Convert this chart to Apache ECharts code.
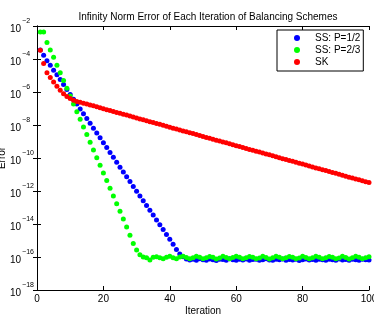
<!DOCTYPE html>
<html>
<head>
<meta charset="utf-8">
<script src="https://cdn.jsdelivr.net/npm/echarts@6/dist/echarts.min.js"></script>
<style>
  html, body { margin: 0; padding: 0; background: #fff; }
  #chart { width: 374px; height: 320px; }
</style>
</head>
<body>
<div id="chart"></div>
<script>
// iterations 1..100, values stored as log10(error)
var iterations = [];
for (var i = 1; i <= 100; i++) iterations.push(i);

var ssHalf = [
  -3.45, -3.78, -4.10, -4.38, -4.68, -4.96, -5.24, -5.55, -5.85, -6.15,
  -6.44, -6.73, -7.03, -7.32, -7.61, -7.90, -8.20, -8.49, -8.78, -9.07,
  -9.37, -9.66, -9.95, -10.25, -10.56, -10.85, -11.14, -11.43, -11.72, -12.01,
  -12.30, -12.59, -12.88, -13.17, -13.46, -13.76, -14.05, -14.34, -14.63, -14.93,
  -15.22, -15.55, -15.82, -15.98, -16.12, -16.18, -16.14, -16.20, -16.10, -16.16,
  -16.19, -16.12, -16.17, -16.21, -16.13, -16.15, -16.20, -16.11, -16.17, -16.19,
  -16.14, -16.18, -16.12, -16.20, -16.15, -16.13, -16.19, -16.16, -16.11, -16.18,
  -16.20, -16.14, -16.17, -16.12, -16.19, -16.15, -16.18, -16.13, -16.21, -16.16,
  -16.12, -16.18, -16.15, -16.20, -16.13, -16.17, -16.19, -16.14, -16.16, -16.20,
  -16.12, -16.18, -16.15, -16.19, -16.13, -16.17, -16.20, -16.14, -16.16, -16.18
];

var ssTwoThirds = [
  -2.36, -2.36, -3.00, -3.45, -3.90, -4.38, -4.84, -5.30, -5.77, -6.24,
  -6.72, -7.19, -7.65, -8.12, -8.58, -9.05, -9.51, -9.98, -10.44, -10.91,
  -11.37, -11.84, -12.30, -12.77, -13.23, -13.70, -14.18, -14.68, -15.18, -15.58,
  -15.86, -16.00, -16.05, -16.18, -16.02, -15.98, -16.05, -16.10, -16.02, -15.96,
  -16.04, -16.10, -16.00, -15.95, -16.03, -16.11, -16.04, -15.96, -16.02, -16.10,
  -16.05, -15.97, -16.01, -16.12, -16.06, -15.96, -16.03, -16.10, -16.03, -15.95,
  -16.02, -16.11, -16.05, -15.97, -16.01, -16.10, -16.06, -15.96, -16.03, -16.12,
  -16.04, -15.95, -16.02, -16.10, -16.05, -15.97, -16.01, -16.11, -16.06, -15.96,
  -16.03, -16.10, -16.04, -15.95, -16.02, -16.11, -16.05, -15.97, -16.01, -16.10,
  -16.06, -15.96, -16.03, -16.12, -16.04, -15.96, -16.02, -16.10, -16.05, -15.98
];

var sk = [
  -3.47, -4.28, -4.83, -5.12, -5.40, -5.65, -5.90, -6.10, -6.27, -6.40,
  -6.50, -6.57, -6.62, -6.68, -6.73, -6.79, -6.84, -6.90, -6.96, -7.01,
  -7.07, -7.12, -7.18, -7.24, -7.29, -7.35, -7.40, -7.46, -7.52, -7.57,
  -7.63, -7.68, -7.74, -7.80, -7.85, -7.91, -7.96, -8.02, -8.08, -8.13,
  -8.19, -8.24, -8.30, -8.36, -8.41, -8.47, -8.52, -8.58, -8.64, -8.69,
  -8.75, -8.80, -8.86, -8.92, -8.97, -9.03, -9.08, -9.14, -9.20, -9.25,
  -9.31, -9.36, -9.42, -9.48, -9.53, -9.59, -9.64, -9.70, -9.76, -9.81,
  -9.87, -9.92, -9.98, -10.04, -10.09, -10.15, -10.20, -10.26, -10.32, -10.37,
  -10.43, -10.48, -10.54, -10.60, -10.65, -10.71, -10.76, -10.82, -10.88, -10.93,
  -10.99, -11.04, -11.10, -11.16, -11.21, -11.27, -11.32, -11.38, -11.44, -11.49
];

var yTickExponents = [-18, -16, -14, -12, -10, -8, -6, -4, -2];
var xTicks = [0, 20, 40, 60, 80, 100];

function toPoints(logs) {
  return logs.map(function (v, idx) {
    return [iterations[idx], Math.pow(10, v)];
  });
}

var fontFamily = "'Liberation Sans', Arial, sans-serif";

var myChart = echarts.init(document.getElementById("chart"));

var option = {
  animation: false,
  backgroundColor: "#fff",
  title: {
    text: "Infinity Norm Error of Each Iteration of Balancing Schemes",
    left: 203,
    top: 7,
    textAlign: "center",
    textStyle: { fontFamily: fontFamily, fontSize: 10, fontWeight: "normal", color: "#000" }
  },
  legend: {
    orient: "vertical",
    left: 277,
    top: 30,
    padding: [2, 3, 3, 17],
    itemGap: 0,
    itemWidth: 6,
    itemHeight: 6,
    icon: "circle",
    backgroundColor: "#fff",
    borderColor: "#000",
    borderWidth: 1,
    textStyle: {
      fontFamily: fontFamily,
      fontSize: 10,
      color: "#000",
      lineHeight: 12,
      padding: [0, 0, 0, 10]
    },
    data: ["SS: P=1/2", "SS: P=2/3", "SK"]
  },
  grid: { left: 37, right: 5, top: 26, bottom: 30, containLabel: false, outerBoundsMode: "none" },
  xAxis: [
    {
      type: "value",
      min: 0,
      max: 100,
      interval: 20,
      name: "Iteration",
      nameLocation: "middle",
      nameGap: 16,
      nameMoveOverlap: false,
      nameTextStyle: { fontFamily: fontFamily, fontSize: 10, color: "#000" },
      axisLine: { show: true, lineStyle: { color: "#000", width: 1 } },
      axisTick: { show: true, inside: true, length: 4, lineStyle: { color: "#000" } },
      axisLabel: {
        fontFamily: fontFamily, fontSize: 10, color: "#000", margin: 4,
        formatter: function (v) { return xTicks.indexOf(v) >= 0 ? String(v) : ""; }
      },
      splitLine: { show: false }
    },
    {
      type: "value",
      position: "top",
      min: 0,
      max: 100,
      interval: 20,
      axisLine: { show: true, lineStyle: { color: "#000", width: 1 } },
      axisTick: { show: true, inside: true, length: 4, lineStyle: { color: "#000" } },
      axisLabel: { show: false },
      splitLine: { show: false }
    }
  ],
  yAxis: [
    {
      type: "log",
      logBase: 100,
      min: 1e-18,
      max: 1e-2,
      name: "Error",
      nameLocation: "middle",
      nameGap: 30,
      nameRotate: 90,
      nameMoveOverlap: false,
      nameTextStyle: { fontFamily: fontFamily, fontSize: 10, color: "#000" },
      axisLine: { show: true, lineStyle: { color: "#000", width: 1 } },
      axisTick: { show: true, inside: true, length: 4, lineStyle: { color: "#000" } },
      axisLabel: {
        align: "left",
        margin: 27,
        formatter: function (v) {
          var e = Math.round(Math.log(v) / Math.LN10);
          if (yTickExponents.indexOf(e) < 0) return "";
          return "{b|10}{s|\u2212" + (-e) + "}";
        },
        rich: {
          b: { fontFamily: fontFamily, fontSize: 10, color: "#000", lineHeight: 16, verticalAlign: "bottom" },
          s: { fontFamily: fontFamily, fontSize: 7, color: "#000", lineHeight: 16, verticalAlign: "top", padding: [0, 0, 0, 1] }
        }
      },
      splitLine: { show: false }
    },
    {
      type: "log",
      logBase: 100,
      min: 1e-18,
      max: 1e-2,
      position: "right",
      axisLine: { show: true, lineStyle: { color: "#000", width: 1 } },
      axisTick: { show: true, inside: true, length: 4, lineStyle: { color: "#000" } },
      axisLabel: { show: false },
      splitLine: { show: false }
    }
  ],
  series: [
    {
      name: "SS: P=1/2",
      type: "scatter",
      symbolSize: 5,
      itemStyle: { color: "#0000ff", opacity: 1 },
      data: toPoints(ssHalf)
    },
    {
      name: "SS: P=2/3",
      type: "scatter",
      symbolSize: 5,
      itemStyle: { color: "#00ff00", opacity: 1 },
      data: toPoints(ssTwoThirds)
    },
    {
      name: "SK",
      type: "scatter",
      symbolSize: 5,
      itemStyle: { color: "#ff0000", opacity: 1 },
      data: toPoints(sk)
    }
  ]
};

myChart.setOption(option);
</script>
</body>
</html>
